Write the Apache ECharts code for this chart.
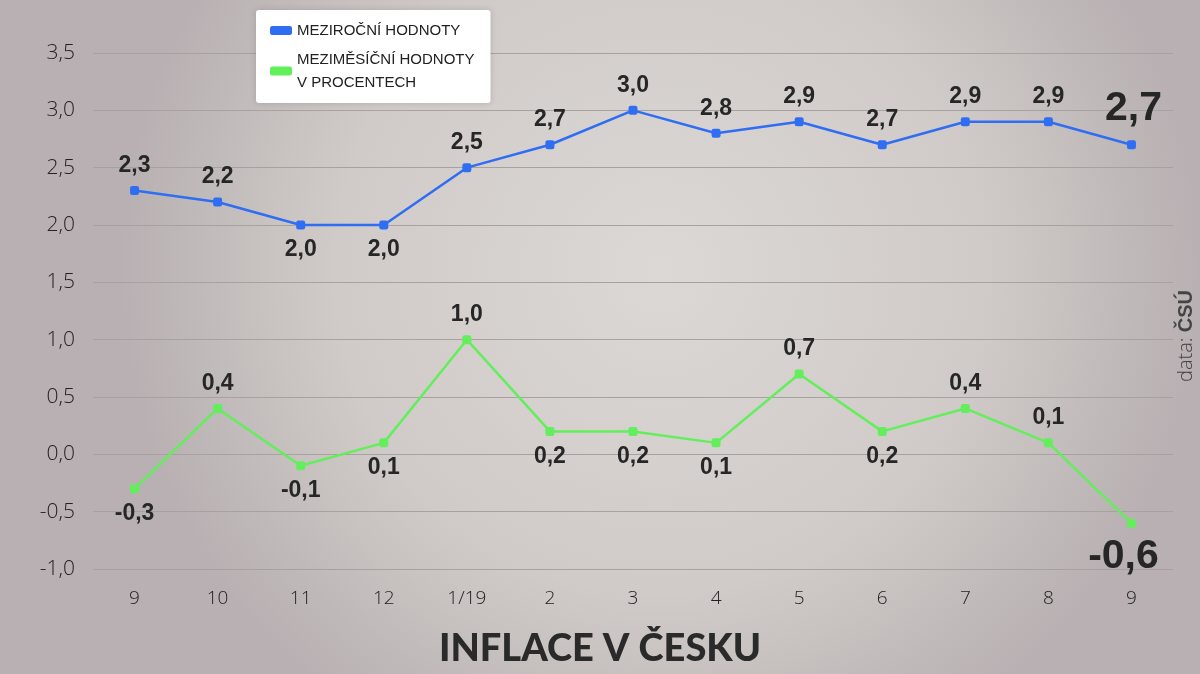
<!DOCTYPE html>
<html><head><meta charset="utf-8">
<script src="https://cdn.jsdelivr.net/npm/echarts@6/dist/echarts.min.js"></script>
<style>html,body{margin:0;padding:0;width:1200px;height:674px;overflow:hidden;}
#c{width:1200px;height:674px;}</style></head>
<body><div id="c"></div>
<script>
const categories = ['9','10','11','12','1/19','2','3','4','5','6','7','8','9'];
const yearOnYear = [2.3,2.2,2.0,2.0,2.5,2.7,3.0,2.8,2.9,2.7,2.9,2.9,2.7];
const monthOnMonth = [-0.3,0.4,-0.1,0.1,1.0,0.2,0.2,0.1,0.7,0.2,0.4,0.1,-0.6];
const yTicks = [-1.0,-0.5,0,0.5,1.0,1.5,2.0,2.5,3.0,3.5];
const seriesNames = ['MEZIROČNÍ HODNOTY','MEZIMĚSÍČNÍ HODNOTY\nV PROCENTECH'];

const bluePos = ['top','top','bottom','bottom','top','top','top','top','top','top','top','top','top'];
const greenPos = ['bottom','top','bottom','bottom','top','bottom','bottom','bottom','top','bottom','top','top','bottom'];

const fmt = v => v.toFixed(1).replace('.', ',');
const lblBase = {show:true, color:'#262626', fontFamily:'Liberation Sans, Arial, sans-serif', fontWeight:'bold', fontSize:23, distance:9, formatter:p=>fmt(p.value)};

function build(vals, pos, bigOffset){
  return vals.map((v,i)=>{
    const item = {value:v, label:{position:pos[i]}};
    if(i===vals.length-1){
      item.label = {position:pos[i], fontSize:41, distance:9, offset:bigOffset};
    }
    return item;
  });
}

const chart = echarts.init(document.getElementById('c'));
chart.setOption({
  backgroundColor:{type:'radial', x:0.55, y:0.4, r:0.8, colorStops:[
    {offset:0,color:'#dcd8d5'},{offset:0.6,color:'#d0cbc8'},{offset:1,color:'#b8b0b2'}]},
  animation:false,
  title:{text:'INFLACE V ČESKU', left:'center', top:625,
    textStyle:{fontFamily:'Lato, sans-serif', fontWeight:900, fontSize:38, color:'#2a2a2a'}},
  legend:{orient:'vertical', left:256, top:10, backgroundColor:'#ffffff', borderRadius:3,
    padding:[9,16,9,14], itemGap:6, itemWidth:22, itemHeight:9, icon:'roundRect',
    shadowColor:'rgba(0,0,0,0.15)', shadowBlur:6,
    textStyle:{fontFamily:'Liberation Sans, Arial, sans-serif', fontSize:15, color:'#222', lineHeight:23},
    data:seriesNames},
  graphic:[{type:'text', left:1176, top:290, rotation:Math.PI/2,
    style:{rich:{a:{fontFamily:'Open Sans, sans-serif', fontWeight:300, fontSize:20, fill:'#444'},
      b:{fontFamily:'Liberation Sans, Arial, sans-serif', fontWeight:'bold', fontSize:20, fill:'#444'}},
      text:'{a|data: }{b|ČSÚ}'}}],
  grid:{left:93, right:27, top:53, bottom:105},
  xAxis:{type:'category', data:categories, boundaryGap:true,
    axisLine:{show:false}, axisTick:{show:false},
    axisLabel:{fontFamily:'Open Sans, sans-serif', fontWeight:300, fontSize:19, color:'#222', margin:20}},
  yAxis:{type:'value', min:-1.0, max:3.5, interval:0.5,
    axisLine:{show:false}, axisTick:{show:false},
    splitLine:{lineStyle:{color:'#a7a19f', width:1}},
    axisLabel:{fontFamily:'Open Sans, sans-serif', fontWeight:300, fontSize:21, color:'#222', margin:18,
      formatter:v=>fmt(v)}},
  series:[
    {name:seriesNames[0], type:'line', data:build(yearOnYear, bluePos, [2,-2]),
      symbol:'roundRect', symbolSize:9, itemStyle:{color:'#2f6ef2'}, lineStyle:{color:'#2f6ef2', width:2.5},
      label:lblBase},
    {name:seriesNames[1], type:'line', data:build(monthOnMonth, greenPos, [-8,0]),
      symbol:'roundRect', symbolSize:9, itemStyle:{color:'#63ee5c'}, lineStyle:{color:'#63ee5c', width:2.5},
      label:lblBase}
  ]
});
</script></body></html>
